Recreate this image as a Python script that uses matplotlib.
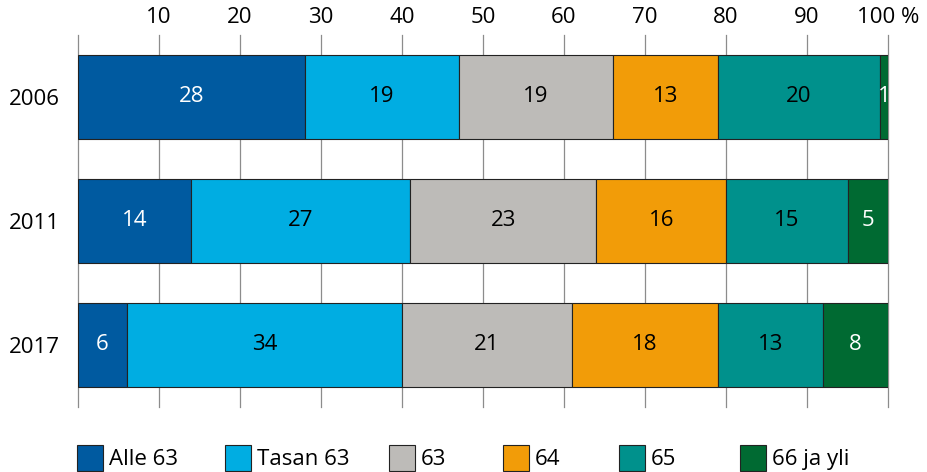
import matplotlib
matplotlib.use('Agg')
from matplotlib import pyplot as plt


years = ['2006', '2011', '2017']
groups = ['Alle 63', 'Tasan 63', '63', '64', '65', '66 ja yli']
values = {
    'Alle 63':   [28, 14, 6],
    'Tasan 63':  [19, 27, 34],
    '63':        [19, 23, 21],
    '64':        [13, 16, 18],
    '65':        [20, 15, 13],
    '66 ja yli': [1, 5, 8],
}
colors = ['#005aa0', '#00ade2', '#bdbbb8', '#f29c08', '#00918c', '#006a32']
text_colors = ['white', 'black', 'black', 'black', 'black', 'white']
ticks = [10, 20, 30, 40, 50, 60, 70, 80, 90, 100]

# left edge of each legend key, in pixels
legend_x = [77, 225, 389, 503, 619, 740]

plt.rcParams['font.family'] = ['Open Sans', 'DejaVu Sans']
fs = 16

fig = plt.figure(figsize=(9.28, 4.72), dpi=100)
ax = fig.add_axes([78 / 928, 1 - 407 / 472, 810 / 928, 372 / 472])

y = list(range(len(years)))
left = [0] * len(years)
handles = []
for g, c, tc in zip(groups, colors, text_colors):
    vals = values[g]
    bars = ax.barh(y, vals, left=left, height=0.67, color=c,
                   edgecolor='#222222', linewidth=0.8, label=g, zorder=3)
    handles.append(bars)
    for b, v in zip(bars, vals):
        ax.text(b.get_x() + b.get_width() / 2, b.get_y() + b.get_height() / 2,
                str(v), ha='center', va='center', color=tc, fontsize=fs, zorder=4)
    left = [l + v for l, v in zip(left, vals)]

ax.set_xlim(0, 100)
ax.set_ylim(2.5, -0.5)
ax.set_yticks(y)
ax.set_yticklabels(years, fontsize=fs)
ax.xaxis.tick_top()
ax.set_xticks([0] + ticks)
ax.set_xticklabels([''] + [str(t) for t in ticks[:-1]] + ['100 %'], fontsize=fs)
ax.tick_params(length=0, pad=5)
ax.tick_params(axis='y', pad=13)
ax.grid(axis='x', color='#8c8c8c', linewidth=0.9, zorder=0)
for line in ax.get_xgridlines():
    line.set_clip_on(False)
for s in ax.spines.values():
    s.set_visible(False)

for h, g, lx in zip(handles, groups, legend_x):
    fig.legend(handles=[h], labels=[g], loc='lower left',
               bbox_to_anchor=(lx / 928, 1 / 472), frameon=False,
               borderpad=0, borderaxespad=0,
               handlelength=1.15, handleheight=1.45, handletextpad=0.3,
               fontsize=fs)

plt.savefig('out.png', dpi=100)
